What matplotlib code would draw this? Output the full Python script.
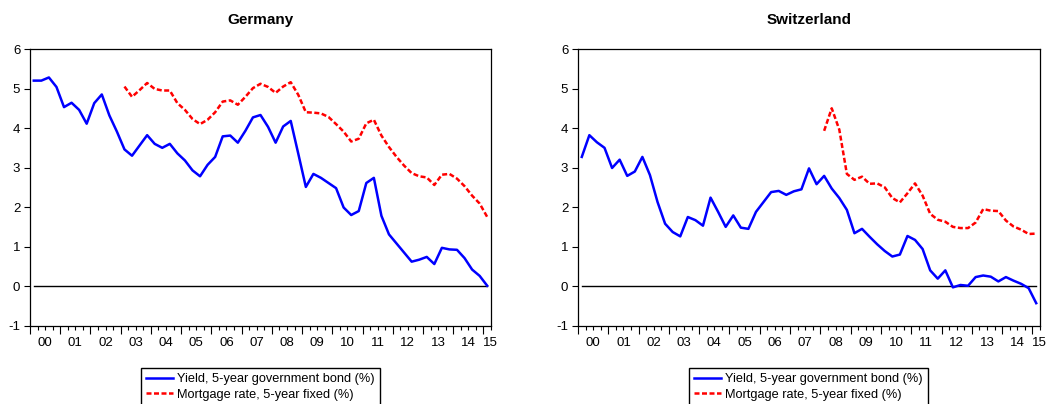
import matplotlib
matplotlib.use("Agg")
import matplotlib.pyplot as plt
import numpy as np

plt.rcParams['font.family'] = ['Liberation Sans', 'DejaVu Sans']
plt.rcParams['axes.unicode_minus'] = False

# Quarterly observations 2000Q1 .. 2015Q1
quarters = [f"{y}Q{q}" for y in range(2000, 2015) for q in range(1, 5)] + ["2015Q1"]
year_labels = ["00", "01", "02", "03", "04", "05", "06", "07", "08", "09",
               "10", "11", "12", "13", "14", "15"]

de_yield = [5.20, 5.20, 5.28, 5.04, 4.53, 4.64, 4.46, 4.11, 4.63, 4.85,
            4.32, 3.91, 3.46, 3.30, 3.56, 3.82, 3.60, 3.50, 3.60, 3.36,
            3.18, 2.93, 2.78, 3.07, 3.27, 3.79, 3.81, 3.63, 3.93, 4.27,
            4.33, 4.03, 3.63, 4.04, 4.18, 3.35, 2.51, 2.84, 2.74, 2.61,
            2.48, 1.99, 1.80, 1.90, 2.61, 2.74, 1.78, 1.31, 1.08, 0.85,
            0.62, 0.67, 0.74, 0.56, 0.97, 0.93, 0.92, 0.71, 0.42, 0.26,
            0.01]
de_mortgage = [None] * 12 + [
            5.05, 4.79, 4.96, 5.14, 4.99, 4.95, 4.95, 4.63,
            4.46, 4.23, 4.10, 4.21, 4.40, 4.67, 4.70, 4.59, 4.79, 5.01,
            5.12, 5.04, 4.89, 5.05, 5.16, 4.84, 4.40, 4.39, 4.37, 4.28,
            4.10, 3.91, 3.66, 3.73, 4.12, 4.21, 3.81, 3.52, 3.27, 3.05,
            2.86, 2.78, 2.75, 2.56, 2.82, 2.84, 2.72, 2.53, 2.29, 2.09,
            1.75]

ch_yield = [3.27, 3.82, 3.64, 3.50, 2.99, 3.20, 2.79, 2.90, 3.27, 2.81,
            2.13, 1.58, 1.37, 1.26, 1.75, 1.67, 1.53, 2.24, 1.88, 1.50,
            1.79, 1.48, 1.45, 1.88, 2.13, 2.38, 2.41, 2.31, 2.40, 2.45,
            2.98, 2.58, 2.79, 2.47, 2.23, 1.93, 1.34, 1.45, 1.25, 1.06,
            0.89, 0.75, 0.80, 1.27, 1.17, 0.94, 0.40, 0.19, 0.40, -0.03,
            0.03, 0.01, 0.23, 0.27, 0.24, 0.12, 0.23, 0.14, 0.06, -0.05,
            -0.43]
ch_mortgage = [None] * 32 + [
            3.93, 4.50, 3.96, 2.84, 2.69, 2.77, 2.59, 2.60,
            2.50, 2.23, 2.12, 2.35, 2.60, 2.29, 1.83, 1.68, 1.63, 1.50,
            1.47, 1.47, 1.61, 1.95, 1.91, 1.90, 1.66, 1.51, 1.43, 1.32,
            1.33]

titles = ["Germany", "Switzerland"]
label_yield = "Yield, 5-year government bond (%)"
label_mort = "Mortgage rate, 5-year fixed (%)"

W, H = 1048, 404
fig = plt.figure(figsize=(W / 100, H / 100), dpi=100)

panels = [
    (titles[0], de_yield, de_mortgage, 30, 491, 141),
    (titles[1], ch_yield, ch_mortgage, 578, 1040, 689),
]

for title, yld, mort, x0, x1, legx in panels:
    top, bot = 49, 325.7
    ax = fig.add_axes([x0 / W, 1 - bot / H, (x1 - x0) / W, (bot - top) / H])
    n = len(quarters)
    x = np.arange(n)
    m = np.array([np.nan if v is None else v for v in mort], dtype=float)
    ax.axhline(0, xmin=0.5 / n, xmax=1 - 0.5 / n, color='black', lw=1.0, zorder=1)
    l1, = ax.plot(x, yld, color='#0000ff', lw=1.8, label=label_yield, zorder=3)
    l2, = ax.plot(x, m, color='#ff0000', lw=1.8, ls=(0, (2.0, 1.0)),
                  label=label_mort, zorder=3)
    ax.set_xlim(-0.5, n - 0.5)
    ax.set_ylim(-1, 6)
    ax.set_yticks(range(-1, 7))
    ax.tick_params(axis='y', direction='out', length=4, width=0.8, labelsize=9.5,
                   right=False, pad=3)
    # x ticks: year boundaries (major) and quarter boundaries (minor)
    ax.set_xticks(np.arange(-0.5, n, 4))
    ax.set_xticks(np.arange(-0.5, n, 1), minor=True)
    ax.tick_params(axis='x', which='major', direction='out', length=6, width=0.8,
                   labelbottom=False)
    ax.tick_params(axis='x', which='minor', direction='out', length=3, width=0.8)
    sec = ax.secondary_xaxis('bottom')
    pos = [1.5 + 4 * k for k in range(15)] + [n - 0.6]
    sec.set_xticks(pos, year_labels)
    sec.tick_params(length=0, labelsize=9.5, pad=8)
    sec.spines['bottom'].set_visible(False)
    for s in ax.spines.values():
        s.set_linewidth(0.9)
    ax.set_title(title, fontsize=11, fontweight='bold', pad=18)
    fig.legend(handles=[l1, l2], loc='upper left',
               bbox_to_anchor=(legx / W, 1 - 368 / H),
               fontsize=9.2, frameon=True, fancybox=False, edgecolor='black',
               framealpha=1, handlelength=2.1, handletextpad=0.3,
               labelspacing=0.3, borderpad=0.4, borderaxespad=0)

fig.savefig("out.png", dpi=100)
